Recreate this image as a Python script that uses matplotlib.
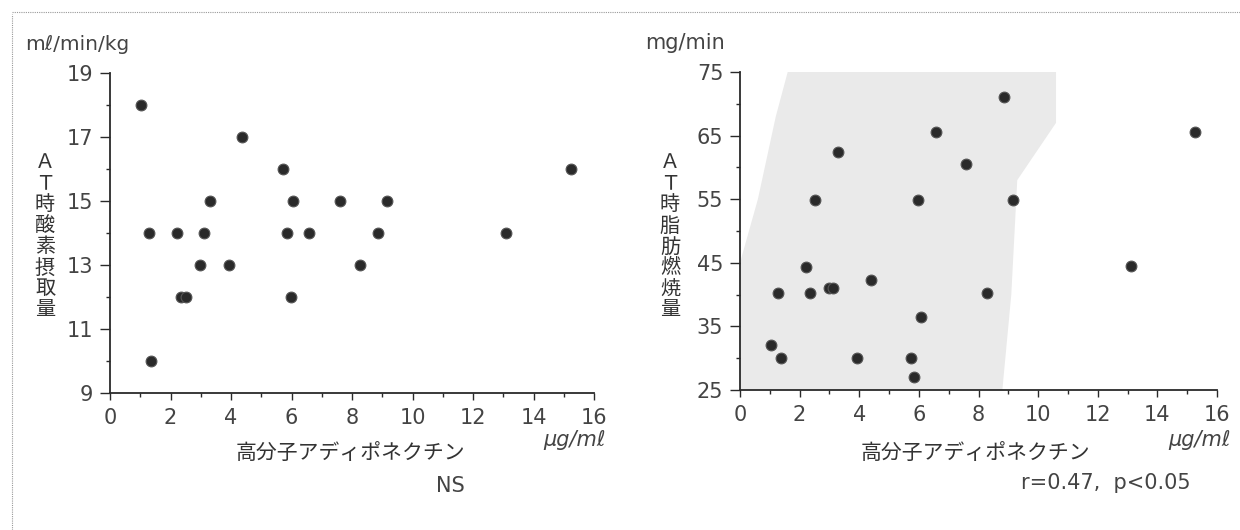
import matplotlib
matplotlib.use("Agg")
import matplotlib.pyplot as plt
from matplotlib.lines import Line2D
from matplotlib.patches import Polygon

plt.rcParams['font.family'] = ['DejaVu Sans', 'Noto Sans CJK JP']

# high-molecular-weight adiponectin (ug/ml), one value per subject
adiponectin = [1.03, 1.28, 1.37, 2.23, 2.36, 2.52, 2.97, 3.12, 3.30, 3.92, 4.38,
               5.72, 5.84, 5.98, 6.06, 6.57, 7.59, 8.28, 8.85, 9.16, 13.1, 15.25]
# oxygen uptake at AT (ml/min/kg)
at_vo2 = [18, 14, 10, 14, 12, 12, 13, 14, 15, 13, 17,
          16, 14, 12, 15, 14, 15, 13, 14, 15, 14, 16]
# fat oxidation at AT (mg/min)
at_fat = [32, 40.2, 30, 44.4, 40.2, 54.8, 41.1, 41.1, 62.5, 30, 42.3,
          30, 27, 54.8, 36.4, 65.5, 60.5, 40.3, 71, 54.8, 44.5, 65.5]

x_ticks = list(range(0, 17, 2))
x_minor = list(range(1, 16, 2))
vo2_ticks = [9, 11, 13, 15, 17, 19]
vo2_minor = [10, 12, 14, 16, 18]
fat_ticks = [25, 35, 45, 55, 65, 75]
fat_minor = [30, 40, 50, 60, 70]

W, H = 1240, 530
fig = plt.figure(figsize=(W / 100, H / 100), dpi=100)
fig.patch.set_facecolor('white')

ink = '#2a2a2a'
txt = '#444444'
cjk = ['Noto Sans CJK JP', 'DejaVu Sans']


def px(x, y):
    return x / W, 1 - y / H


def style_axes(ax, yticks, yminor):
    for s in ('top', 'right'):
        ax.spines[s].set_visible(False)
    for s in ('left', 'bottom'):
        ax.spines[s].set_color(ink)
        ax.spines[s].set_linewidth(1.3)
    ax.set_xlim(0, 16)
    ax.set_ylim(yticks[0], yticks[-1])
    ax.set_xticks(x_ticks)
    ax.set_xticks(x_minor, minor=True)
    ax.set_yticks(yticks)
    ax.set_yticks(yminor, minor=True)
    ax.tick_params(axis='both', which='both', direction='out', color=ink,
                   labelcolor=txt, labelsize=15)
    ax.tick_params(axis='x', which='major', length=5, width=1, pad=6)
    ax.tick_params(axis='x', which='minor', length=3, width=1)
    ax.tick_params(axis='y', which='major', length=7, width=1, pad=5)
    ax.tick_params(axis='y', which='minor', length=3, width=1)
    ax.set_facecolor('none')


def vertical_label(x, y_top, text, pitch=21):
    for i, ch in enumerate(text):
        fig.text(*px(x, y_top + i * pitch), ch, family=cjk, fontsize=14.5,
                 color='#333333', ha='center', va='center')


# left: oxygen uptake
ax1 = fig.add_axes([110 / W, (H - 393) / H, 484 / W, 320 / H])
style_axes(ax1, vo2_ticks, vo2_minor)
ax1.scatter(adiponectin, at_vo2, s=60, color=ink, edgecolors='#555555',
            linewidths=0.8, zorder=3, clip_on=False)

# right: fat oxidation, with the grey halftone tint behind the points
ax2 = fig.add_axes([740 / W, (H - 390) / H, 477 / W, 318 / H])
style_axes(ax2, fat_ticks, fat_minor)
tint = Polygon([(1.6, 75), (10.6, 75), (10.6, 67), (9.3, 58), (9.1, 40),
                (8.8, 25), (0, 25), (0, 45), (0.6, 55), (1.2, 68)],
               closed=True, facecolor='#eaeaea', edgecolor='none', zorder=0)
ax2.add_patch(tint)
ax2.scatter(adiponectin, at_fat, s=60, color=ink, edgecolors='#555555',
            linewidths=0.8, zorder=3, clip_on=False)

# unit labels and axis titles
fig.text(*px(25, 45), 'mℓ/min/kg', fontsize=14.5, color=txt, va='center')
fig.text(*px(645, 43), 'mg/min', fontsize=15, color=txt, va='center')
vertical_label(45, 163, 'ＡＴ時酸素摂取量')
vertical_label(670, 163, 'ＡＴ時脂肪燃焼量')

for cx in (350, 975):
    fig.text(*px(cx, 454), '高分子アディポネクチン', family=cjk, fontsize=15,
             color='#333333', ha='center', va='center')
for cx in (575, 1200):
    fig.text(*px(cx, 440), 'μg/mℓ', fontsize=15, color=txt, ha='center',
             va='center', style='italic')

fig.text(*px(450, 486), 'NS', fontsize=15, color=txt, ha='center',
         va='center')
fig.text(*px(1106, 483), 'r=0.47,  p<0.05', fontsize=15, color=txt,
         ha='center', va='center')

# dotted page frame along the top and left edges
fig.add_artist(Line2D([12 / W, 1], [1 - 12 / H, 1 - 12 / H],
                      transform=fig.transFigure, color='#999999', lw=0.8,
                      linestyle=(0, (1, 1))))
fig.add_artist(Line2D([12 / W, 12 / W], [0, 1 - 14 / H],
                      transform=fig.transFigure, color='#999999', lw=0.8,
                      linestyle=(0, (1, 1))))

fig.savefig('out.png', dpi=100, facecolor='white')
